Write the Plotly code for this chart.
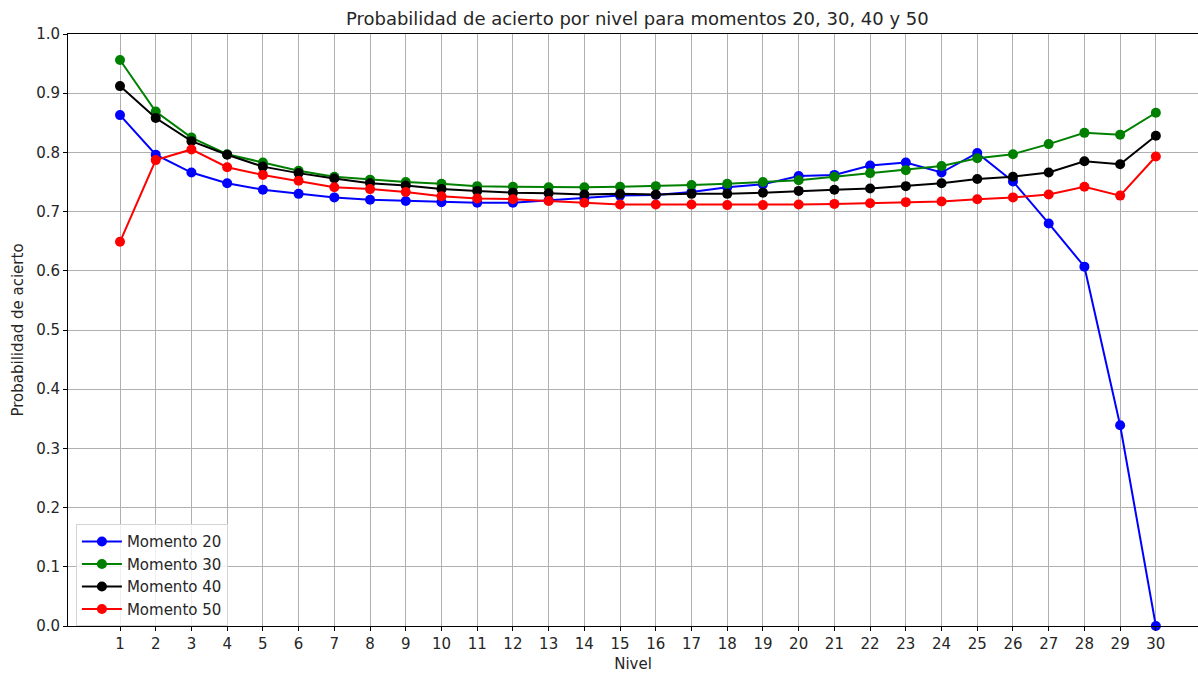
import plotly.graph_objects as go

# Probability of a correct answer per level, for four moments
niveles = list(range(1, 31))

momento_20 = [0.863, 0.796, 0.766, 0.748, 0.737, 0.730, 0.724, 0.720, 0.718, 0.716,
              0.715, 0.715, 0.719, 0.722, 0.727, 0.728, 0.733, 0.741, 0.746, 0.760,
              0.762, 0.778, 0.783, 0.766, 0.799, 0.751, 0.680, 0.607, 0.339, 0.000]
momento_30 = [0.956, 0.869, 0.825, 0.797, 0.783, 0.769, 0.759, 0.754, 0.750, 0.747,
              0.743, 0.742, 0.741, 0.741, 0.742, 0.743, 0.745, 0.747, 0.750, 0.753,
              0.759, 0.765, 0.770, 0.777, 0.790, 0.797, 0.814, 0.833, 0.830, 0.867]
momento_40 = [0.912, 0.858, 0.819, 0.796, 0.776, 0.765, 0.756, 0.748, 0.744, 0.738,
              0.735, 0.732, 0.731, 0.729, 0.730, 0.729, 0.730, 0.730, 0.732, 0.735,
              0.737, 0.739, 0.743, 0.748, 0.755, 0.759, 0.766, 0.785, 0.780, 0.828]
momento_50 = [0.649, 0.787, 0.805, 0.775, 0.762, 0.752, 0.741, 0.738, 0.733, 0.726,
              0.722, 0.721, 0.718, 0.715, 0.712, 0.712, 0.712, 0.711, 0.711, 0.712,
              0.713, 0.714, 0.716, 0.717, 0.721, 0.724, 0.729, 0.742, 0.727, 0.793]

series = [
    ("Momento 20", momento_20, "#0000ff"),
    ("Momento 30", momento_30, "#008000"),
    ("Momento 40", momento_40, "#000000"),
    ("Momento 50", momento_50, "#ff0000"),
]

FONT = "DejaVu Sans, Liberation Sans, sans-serif"
TEXT = "#262626"
FS = 15

fig = go.Figure()
for nombre, valores, color in series:
    fig.add_trace(go.Scatter(
        x=niveles, y=valores, name=nombre, mode="lines+markers",
        line=dict(color=color, width=2),
        marker=dict(color=color, size=10),
        cliponaxis=False,
    ))

fig.update_layout(
    width=1198, height=674,
    margin=dict(l=68, r=0, t=34, b=48),
    paper_bgcolor="white", plot_bgcolor="white",
    font=dict(family=FONT, size=FS, color=TEXT),
    title=dict(
        text="Probabilidad de acierto por nivel para momentos 20, 30, 40 y 50",
        x=0.532, xanchor="center", y=0.972, yanchor="middle",
        font=dict(family=FONT, size=18, color=TEXT),
    ),
    showlegend=True,
    legend=dict(
        x=0.007, y=0.172, xanchor="left", yanchor="top",
        bgcolor="rgba(255,255,255,0.8)", bordercolor="#d5d5d5", borderwidth=1,
        font=dict(family=FONT, size=FS, color=TEXT),
        tracegroupgap=0, itemwidth=40,
    ),
)

fig.update_xaxes(
    range=[-0.456, 31.18],
    tickmode="array", tickvals=niveles, ticktext=[str(n) for n in niveles],
    ticks="outside", ticklen=4, tickcolor="black", tickwidth=1,
    showline=True, linecolor="black", linewidth=1, mirror=True,
    showgrid=True, gridcolor="#b0b0b0", gridwidth=1,
    zeroline=False,
    title=dict(text="Nivel", standoff=6, font=dict(family=FONT, size=FS, color=TEXT)),
)
fig.update_yaxes(
    range=[0, 1],
    tickmode="array", tickvals=[i / 10 for i in range(11)],
    ticktext=[f"{i / 10:.1f}" for i in range(11)],
    ticks="outside", ticklen=4, tickcolor="black", tickwidth=1,
    showline=True, linecolor="black", linewidth=1, mirror=False,
    showgrid=True, gridcolor="#b0b0b0", gridwidth=1,
    zeroline=False,
    title=dict(text="Probabilidad de acierto", standoff=8,
               font=dict(family=FONT, size=FS, color=TEXT)),
)

fig.write_html("out.html")
